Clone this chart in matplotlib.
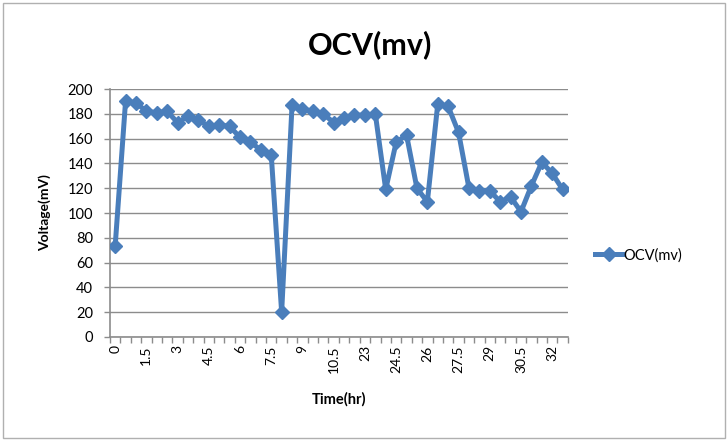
import matplotlib
matplotlib.use("Agg")
import matplotlib.pyplot as plt
from matplotlib.patches import Rectangle
from matplotlib.ticker import FixedLocator, NullFormatter

plt.rcParams['font.family'] = ['Lato', 'DejaVu Sans']

# sample times (hr) and open-circuit voltage (mV)
times = [0, 0.5, 1, 1.5, 2, 2.5, 3, 3.5, 4, 4.5, 5, 5.5, 6, 6.5, 7, 7.5,
         8, 8.5, 9, 9.5, 10, 10.5, 22, 22.5, 23, 23.5, 24, 24.5, 25, 25.5,
         26, 26.5, 27, 27.5, 28, 28.5, 29, 29.5, 30, 30.5, 31, 31.5, 32, 32.5]
ocv = [73, 190, 189, 182, 181, 182, 173, 178, 175, 170, 171, 170, 161, 157,
       151, 147, 20, 187, 184, 182, 180, 173, 177, 179, 179, 180, 119, 157,
       163, 120, 109, 188, 186, 165, 120, 118, 118, 109, 113, 101, 122, 141,
       132, 119]

line_color = '#4a7ebb'
grid_color = '#8c8c8c'

fig = plt.figure(figsize=(7.28, 4.41), dpi=100)
ax = fig.add_axes([0.151, 0.236, 0.629, 0.562])

pos = list(range(len(ocv)))
ax.plot(pos, ocv, color=line_color, lw=3.6, marker='D', ms=7.5,
        mec=line_color, mfc=line_color, label='OCV(mv)', zorder=3)

ax.set_ylim(0, 200)
ax.set_yticks(range(0, 201, 20))
ax.set_xlim(-0.5, len(ocv) - 0.5)

# category labels every third point, tick marks between categories
ax.set_xticks(pos[::3])
ax.set_xticklabels([f'{t:g}' for t in times[::3]], rotation=90)
ax.xaxis.set_minor_locator(FixedLocator([p - 0.5 for p in range(len(ocv) + 1)]))
ax.xaxis.set_minor_formatter(NullFormatter())
ax.tick_params(axis='x', which='major', length=0, pad=6, labelsize=10)
ax.tick_params(axis='x', which='minor', length=4, width=1, color=grid_color)
ax.tick_params(axis='y', length=4, width=1, color=grid_color, labelsize=10.5,
               pad=8)

ax.grid(axis='y', color=grid_color, lw=1)
ax.set_axisbelow(True)
for side in ('top', 'right'):
    ax.spines[side].set_visible(False)
for side in ('left', 'bottom'):
    ax.spines[side].set_color(grid_color)
    ax.spines[side].set_linewidth(1.2)

ax.set_xlabel('Time(hr)', fontsize=10.5, fontweight='bold', labelpad=14)
ax.set_ylabel('Voltage(mV)', fontsize=10, fontweight='bold', labelpad=12)
fig.text(0.508, 0.898, 'OCV(mv)', ha='center', va='center',
         fontsize=22, fontweight='bold')

ax.legend(loc='center left', bbox_to_anchor=(1.03, 0.33), frameon=False,
          fontsize=10.5, handlelength=1.9, handletextpad=0.1)

fig.patches.append(Rectangle((0.004, 0.006), 0.992, 0.988,
                             transform=fig.transFigure, fill=False,
                             edgecolor='#b0b0b0', lw=1))

fig.savefig('out.png', dpi=100)
